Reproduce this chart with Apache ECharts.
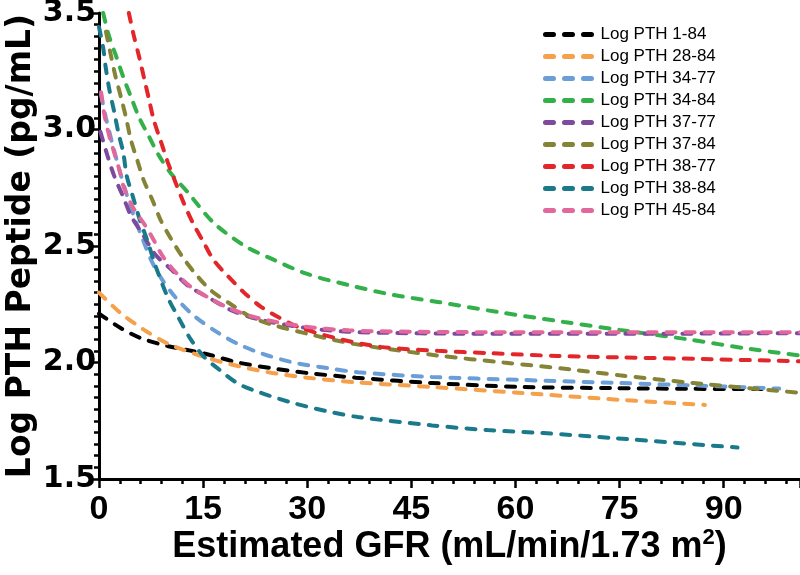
<!DOCTYPE html>
<html><head><meta charset="utf-8">
<script src="https://cdn.jsdelivr.net/npm/echarts@6/dist/echarts.min.js"></script>
<style>html,body{margin:0;padding:0;background:#fff}#c{width:800px;height:575px}</style>
</head><body><div id="c"></div>
<script>
const seriesNames = ['Log PTH 1-84','Log PTH 28-84','Log PTH 34-77','Log PTH 34-84','Log PTH 37-77','Log PTH 37-84','Log PTH 38-77','Log PTH 38-84','Log PTH 45-84'];
const seriesColors = ['#000000','#f5a04a','#6b9ed6','#33b04a','#7e4a9e','#858336','#e3262a','#1a7a8c','#e2689c'];
const xTicks = [0,15,30,45,60,75,90];
const yTicks = [1.5,2.0,2.5,3.0,3.5];

const pth1_84 = [[0,2.21],[3,2.15],[6,2.105],[10,2.07],[15,2.04],[20,2.00],[25,1.975],[30,1.955],[37,1.935],[48,1.912],[61,1.895],[74,1.89],[85,1.887],[95.5,1.886]];
const pth28_84 = [[0,2.30],[3,2.215],[6.5,2.14],[10,2.08],[15,2.025],[20,1.985],[25,1.955],[30,1.935],[37,1.915],[48,1.895],[61,1.869],[75,1.84],[87.3,1.818]];
const pth34_77 = [[0.3,3.15],[1,3.05],[2,2.93],[3,2.82],[4,2.72],[5,2.63],[6.3,2.53],[7.5,2.44],[9,2.36],[11,2.28],[13.7,2.20],[17.3,2.125],[20,2.08],[23.3,2.04],[28,2.0],[33,1.976],[37.3,1.958],[48,1.938],[61,1.925],[75,1.912],[87,1.90],[98,1.888]];
const pth34_84 = [[0.6,3.5],[1.4,3.405],[2.4,3.32],[3.5,3.225],[4.6,3.14],[5.8,3.05],[7.2,2.97],[8.6,2.89],[10.4,2.81],[12.8,2.73],[16.5,2.60],[21,2.50],[24.5,2.45],[30,2.38],[36.3,2.33],[42.4,2.29],[48.8,2.26],[57.4,2.217],[67,2.174],[75,2.14],[84.7,2.10],[93.8,2.058],[101,2.03]];
const pth37_77 = [[0.2,2.99],[1.3,2.88],[2.2,2.80],[3.5,2.71],[4.6,2.63],[6.3,2.55],[8.2,2.46],[10.4,2.40],[12.8,2.33],[15.7,2.28],[19,2.225],[23,2.185],[29.5,2.15],[35.8,2.132],[42.4,2.127],[50,2.124],[75,2.123],[101,2.126]];
const pth37_84 = [[1.0,3.42],[1.7,3.32],[2.4,3.225],[3.2,3.135],[3.9,3.05],[4.6,2.955],[5.6,2.86],[6.4,2.785],[7.8,2.69],[8.9,2.61],[10.4,2.53],[12.1,2.45],[14.2,2.37],[16.1,2.31],[19,2.25],[21.9,2.195],[25.2,2.16],[30.5,2.12],[36.7,2.08],[48.8,2.03],[58.3,2.0],[68,1.97],[75,1.945],[85.6,1.912],[101,1.87]];
const pth38_77 = [[4.3,3.5],[5.0,3.405],[5.8,3.31],[6.5,3.22],[7.2,3.13],[7.9,3.04],[8.9,2.95],[9.9,2.86],[11,2.775],[12.2,2.685],[13.5,2.60],[15,2.52],[16.5,2.44],[18.6,2.37],[20.9,2.30],[23.3,2.24],[25.8,2.195],[28.9,2.15],[34.8,2.10],[40.6,2.067],[48.8,2.05],[56.4,2.04],[66,2.028],[75,2.022],[87,2.015],[101,2.005]];
const pth38_84 = [[0,3.44],[0.6,3.35],[1.0,3.26],[1.5,3.17],[2.2,3.075],[2.8,2.985],[3.5,2.90],[4.0,2.80],[4.9,2.71],[5.8,2.62],[7,2.52],[8.2,2.41],[9.9,2.28],[11.5,2.19],[13.2,2.10],[15.1,2.025],[17.1,1.975],[20,1.91],[23.3,1.87],[28,1.826],[33,1.79],[37.3,1.766],[48,1.73],[56,1.71],[64,1.697],[74,1.676],[92,1.635]];
const pth45_84 = [[0.3,3.16],[0.8,3.06],[1.5,2.97],[2.3,2.89],[3.0,2.82],[3.6,2.75],[5,2.66],[6.5,2.595],[7.8,2.53],[9.2,2.455],[11.1,2.385],[13.2,2.325],[16,2.275],[19,2.23],[23,2.19],[29.5,2.155],[36,2.138],[45,2.132],[60,2.13],[80,2.13],[101,2.13]];

const allData = [pth1_84,pth28_84,pth34_77,pth34_84,pth37_77,pth37_84,pth38_77,pth38_84,pth45_84];

const chart = echarts.init(document.getElementById('c'), null, {renderer:'canvas'});
chart.setOption({
  animation:false,
  backgroundColor:'#fff',
  grid:{left:99, top:13, right:0, bottom:96, containLabel:false, outerBoundsMode:'none'},
  legend:{
    left:538, top:21, orient:'vertical', itemWidth:50, itemHeight:14, itemGap:5,
    itemStyle:{opacity:0},
    lineStyle:{width:5, type:[8,11], cap:'round'},
    textStyle:{fontFamily:'Liberation Sans, Arial', fontSize:17, color:'#000'},
    data: seriesNames
  },
  xAxis:{
    type:'value', min:0, max:101, interval:15,
    axisLine:{show:true, lineStyle:{color:'#000', width:3}},
    axisTick:{show:true, length:9, lineStyle:{color:'#000', width:2.5}},
    minorTick:{show:true, splitNumber:5, length:5, lineStyle:{color:'#000', width:2.5}},
    splitLine:{show:false},
    axisLabel:{color:'#000', fontFamily:'Liberation Sans, Arial', fontWeight:'bold', fontSize:34, margin:14,
      formatter:v=> xTicks.indexOf(v)>=0 ? String(v) : ''},
    name:'{a|Estimated GFR (mL/min/1.73 m}{s|2}{a|)}', nameLocation:'middle', nameGap:48, nameMoveOverlap:false,
    nameTextStyle:{color:'#000', fontFamily:'Liberation Sans, Arial', fontWeight:'bold', fontSize:36,
      rich:{
        a:{color:'#000', fontFamily:'Liberation Sans, Arial', fontWeight:'bold', fontSize:36, lineHeight:40},
        s:{color:'#000', fontFamily:'Liberation Sans, Arial', fontWeight:'bold', fontSize:22, lineHeight:40, padding:[0,0,18,0]}
      }}
  },
  yAxis:{
    type:'value', min:1.5, max:3.5, interval:0.5,
    axisLine:{show:true, lineStyle:{color:'#000', width:3}},
    axisTick:{show:true, length:9, lineStyle:{color:'#000', width:2.5}},
    minorTick:{show:true, splitNumber:10, length:5, lineStyle:{color:'#000', width:2.5}},
    splitLine:{show:false},
    axisLabel:{color:'#000', fontFamily:'DejaVu Sans', fontWeight:'bold', fontSize:30, margin:3,
      formatter:v=> yTicks.indexOf(+v.toFixed(2))>=0 ? v.toFixed(1) : ''},
    name:'Log PTH Peptide (pg/mL)', nameLocation:'middle', nameGap:61, nameMoveOverlap:false,
    nameTextStyle:{color:'#000', fontFamily:'DejaVu Sans', fontWeight:'bold', fontSize:33}
  },
  series: allData.map((d,i)=>({
    name:seriesNames[i], type:'line', data:d, symbol:'none', smooth:0.3,
    clip:true,
    itemStyle:{color:seriesColors[i]},
    lineStyle:{color:seriesColors[i], width:4, type:[9,10], cap:'round'}
  }))
});
</script></body></html>
